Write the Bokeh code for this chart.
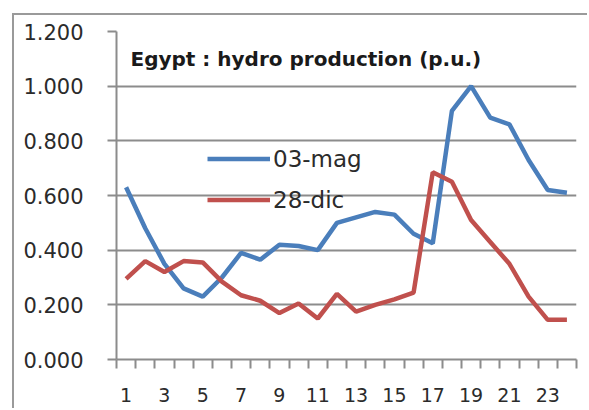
from bokeh.plotting import figure
from bokeh.models import (Range1d, FixedTicker, NumeralTickFormatter, Legend,
                          LegendItem, Label, ColumnDataSource)
from bokeh.embed import file_html
from bokeh.resources import INLINE

hours = list(range(1, 25))
may03 = [0.63, 0.48, 0.35, 0.26, 0.23, 0.30, 0.39, 0.365, 0.42, 0.415, 0.40, 0.50,
         0.52, 0.54, 0.53, 0.46, 0.425, 0.91, 1.00, 0.885, 0.86, 0.73, 0.62, 0.61]
dec28 = [0.295, 0.36, 0.32, 0.36, 0.355, 0.285, 0.235, 0.215, 0.17, 0.205, 0.15, 0.24,
         0.175, 0.20, 0.22, 0.245, 0.685, 0.65, 0.51, 0.43, 0.35, 0.23, 0.145, 0.145]
y_ticks = [0.0, 0.2, 0.4, 0.6, 0.8, 1.0, 1.2]
x_label_ticks = [1, 3, 5, 7, 9, 11, 13, 15, 17, 19, 21, 23]
title_text = "Egypt : hydro production (p.u.)"
series_names = ["03-mag", "28-dic"]

FONT = "DejaVu Sans"
GRID = "#8c8c8c"
TXT = "#2b2b2b"

p = figure(width=573, height=393, output_backend="svg", toolbar_location=None,
           x_range=Range1d(0.5, 24.5), y_range=Range1d(0, 1.2),
           min_border_left=102, min_border_top=16, min_border_right=13,
           min_border_bottom=51)
p.outline_line_color = None
p.background_fill_color = "white"
p.border_fill_color = "white"
p.styles = {"margin-left": "12px", "margin-top": "13px", "box-sizing": "content-box",
            "border-left": "2px solid #9a9a9a", "border-top": "2px solid #9a9a9a"}

# y axis
p.yaxis.ticker = FixedTicker(ticks=y_ticks, minor_ticks=[])
p.yaxis.formatter = NumeralTickFormatter(format="0.000")
p.yaxis.axis_line_color = GRID
p.yaxis.axis_line_width = 2
p.yaxis.major_tick_line_color = GRID
p.yaxis.major_tick_line_width = 2
p.yaxis.major_tick_out = 9
p.yaxis.major_tick_in = 0
p.yaxis.minor_tick_line_color = None
p.yaxis.major_label_standoff = 24
p.yaxis.major_label_text_font = FONT
p.yaxis.major_label_text_font_size = "21px"
p.yaxis.major_label_text_color = TXT

# x axis
minor = [h - 0.5 for h in hours] + [24.5]
p.xaxis.ticker = FixedTicker(ticks=x_label_ticks, minor_ticks=minor)
p.xaxis.axis_line_color = GRID
p.xaxis.axis_line_width = 2
p.xaxis.major_tick_line_color = None
p.xaxis.major_tick_out = 0
p.xaxis.major_tick_in = 0
p.xaxis.minor_tick_line_color = GRID
p.xaxis.minor_tick_line_width = 2
p.xaxis.minor_tick_out = 9
p.xaxis.minor_tick_in = 0
p.xaxis.major_label_standoff = 19
p.xaxis.major_label_text_font = FONT
p.xaxis.major_label_text_font_size = "19px"
p.xaxis.major_label_text_color = TXT

p.xgrid.grid_line_color = None
p.ygrid.grid_line_color = GRID
p.ygrid.grid_line_width = 2

src = ColumnDataSource(dict(h=hours, a=may03, b=dec28))
r1 = p.line("h", "a", source=src, line_color="#4a7ebb", line_width=4.5)
r2 = p.line("h", "b", source=src, line_color="#c0504d", line_width=4.5)

legend = Legend(items=[LegendItem(label=series_names[0], renderers=[r1]),
                       LegendItem(label=series_names[1], renderers=[r2])],
                location=(91, 146), orientation="vertical",
                glyph_width=63, glyph_height=27, label_height=27, spacing=14,
                label_standoff=3, padding=0, margin=0,
                border_line_color=None, background_fill_alpha=0,
                label_text_font=FONT, label_text_font_size="23px",
                label_text_color=TXT)
p.add_layout(legend)

p.add_layout(Label(x=1.23, y=1.10, text=title_text, text_font=FONT,
                   text_font_size="20px", text_font_style="bold",
                   text_baseline="middle", text_color="#1a1a1a"))

open("out.html", "w").write(file_html(p, INLINE))
